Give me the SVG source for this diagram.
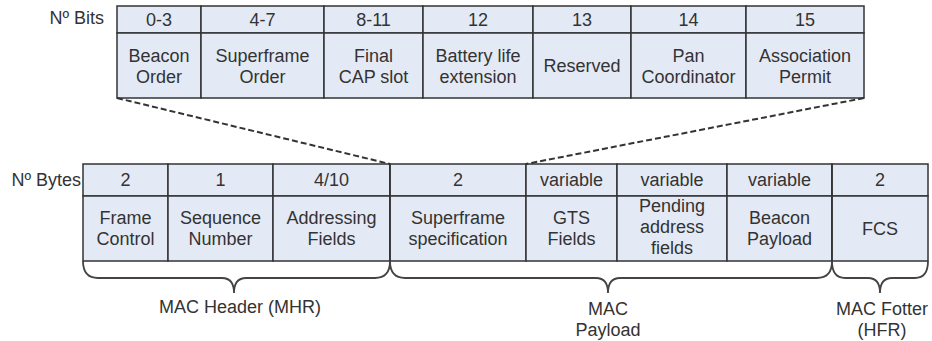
<svg xmlns="http://www.w3.org/2000/svg" width="932" height="341" viewBox="0 0 932 341">
<style>
  .cell { fill: #e4eaf5; stroke: #333; stroke-width: 1.5; }
  .sep { stroke: #333; stroke-width: 1.5; fill: none; }
  .t { font-family: "Liberation Sans", Arial, sans-serif; font-size: 18px; fill: #333; text-anchor: middle; }
  .lbl { font-family: "Liberation Sans", Arial, sans-serif; font-size: 18px; fill: #333; text-anchor: end; }
  .dash { stroke: #333; stroke-width: 2; stroke-dasharray: 6 3; fill: none; }
  .brace { stroke: #444; stroke-width: 1.8; fill: none; }
</style>
<rect width="932" height="341" fill="#ffffff"/>

<g id="bits-label"><text class="lbl" x="104" y="24">Nº Bits</text></g>
<g id="bytes-label"><text class="lbl" x="81" y="186">Nº Bytes</text></g>

<!-- Top table: superframe specification bits -->
<g id="bits-table">
  <g id="bit-beacon-order">
    <rect class="cell" x="117" y="6" width="84" height="27"/>
    <rect class="cell" x="117" y="33" width="84" height="65"/>
    <text class="t" x="159" y="26">0-3</text>
    <text class="t" x="159" y="62">Beacon</text>
    <text class="t" x="159" y="83">Order</text>
  </g>
  <g id="bit-superframe-order">
    <rect class="cell" x="201" y="6" width="123" height="27"/>
    <rect class="cell" x="201" y="33" width="123" height="65"/>
    <text class="t" x="262.5" y="26">4-7</text>
    <text class="t" x="262.5" y="62">Superframe</text>
    <text class="t" x="262.5" y="83">Order</text>
  </g>
  <g id="bit-final-cap">
    <rect class="cell" x="324" y="6" width="99" height="27"/>
    <rect class="cell" x="324" y="33" width="99" height="65"/>
    <text class="t" x="373.5" y="26">8-11</text>
    <text class="t" x="373.5" y="62">Final</text>
    <text class="t" x="373.5" y="83">CAP slot</text>
  </g>
  <g id="bit-battery">
    <rect class="cell" x="423" y="6" width="110" height="27"/>
    <rect class="cell" x="423" y="33" width="110" height="65"/>
    <text class="t" x="478" y="26">12</text>
    <text class="t" x="478" y="62">Battery life</text>
    <text class="t" x="478" y="83">extension</text>
  </g>
  <g id="bit-reserved">
    <rect class="cell" x="533" y="6" width="98" height="27"/>
    <rect class="cell" x="533" y="33" width="98" height="65"/>
    <text class="t" x="582" y="26">13</text>
    <text class="t" x="582" y="72">Reserved</text>
  </g>
  <g id="bit-pan-coordinator">
    <rect class="cell" x="631" y="6" width="115" height="27"/>
    <rect class="cell" x="631" y="33" width="115" height="65"/>
    <text class="t" x="688.5" y="26">14</text>
    <text class="t" x="688.5" y="62">Pan</text>
    <text class="t" x="688.5" y="83">Coordinator</text>
  </g>
  <g id="bit-association-permit">
    <rect class="cell" x="746" y="6" width="118" height="27"/>
    <rect class="cell" x="746" y="33" width="118" height="65"/>
    <text class="t" x="805" y="26">15</text>
    <text class="t" x="805" y="62">Association</text>
    <text class="t" x="805" y="83">Permit</text>
  </g>
</g>

<!-- Bottom table: MAC frame -->
<g id="frame-table">
  <g id="frame-control">
    <rect class="cell" x="83" y="164" width="85" height="32"/>
    <rect class="cell" x="83" y="196" width="85" height="65"/>
    <text class="t" x="125.5" y="186">2</text>
    <text class="t" x="125.5" y="223.5">Frame</text>
    <text class="t" x="125.5" y="244.5">Control</text>
  </g>
  <g id="sequence-number">
    <rect class="cell" x="168" y="164" width="105" height="32"/>
    <rect class="cell" x="168" y="196" width="105" height="65"/>
    <text class="t" x="220.5" y="186">1</text>
    <text class="t" x="220.5" y="223.5">Sequence</text>
    <text class="t" x="220.5" y="244.5">Number</text>
  </g>
  <g id="addressing-fields">
    <rect class="cell" x="273" y="164" width="117" height="32"/>
    <rect class="cell" x="273" y="196" width="117" height="65"/>
    <text class="t" x="331.5" y="186">4/10</text>
    <text class="t" x="331.5" y="223.5">Addressing</text>
    <text class="t" x="331.5" y="244.5">Fields</text>
  </g>
  <g id="superframe-specification">
    <rect class="cell" x="390" y="164" width="136" height="32"/>
    <rect class="cell" x="390" y="196" width="136" height="65"/>
    <text class="t" x="458" y="186">2</text>
    <text class="t" x="458" y="223.5">Superframe</text>
    <text class="t" x="458" y="244.5">specification</text>
  </g>
  <g id="gts-fields">
    <rect class="cell" x="526" y="164" width="91" height="32"/>
    <rect class="cell" x="526" y="196" width="91" height="65"/>
    <text class="t" x="571.5" y="186">variable</text>
    <text class="t" x="571.5" y="223.5">GTS</text>
    <text class="t" x="571.5" y="244.5">Fields</text>
  </g>
  <g id="pending-address-fields">
    <rect class="cell" x="617" y="164" width="110" height="32"/>
    <rect class="cell" x="617" y="196" width="110" height="65"/>
    <text class="t" x="672" y="186">variable</text>
    <text class="t" x="672" y="212">Pending</text>
    <text class="t" x="672" y="233">address</text>
    <text class="t" x="672" y="254">fields</text>
  </g>
  <g id="beacon-payload">
    <rect class="cell" x="727" y="164" width="105" height="32"/>
    <rect class="cell" x="727" y="196" width="105" height="65"/>
    <text class="t" x="779.5" y="186">variable</text>
    <text class="t" x="779.5" y="223.5">Beacon</text>
    <text class="t" x="779.5" y="244.5">Payload</text>
  </g>
  <g id="fcs">
    <rect class="cell" x="832" y="164" width="96" height="32"/>
    <rect class="cell" x="832" y="196" width="96" height="65"/>
    <text class="t" x="880" y="186">2</text>
    <text class="t" x="880" y="235">FCS</text>
  </g>
  <line class="sep" x1="390" y1="164" x2="390" y2="261" stroke-width="2"/>
  <line class="sep" x1="832" y1="164" x2="832" y2="261" stroke-width="2.2"/>
</g>

<!-- Connectors: zoom-out dashed lines -->
<g id="connectors">
  <line class="dash" x1="117" y1="98" x2="390" y2="164"/>
  <line class="dash" x1="864" y1="98" x2="526" y2="164"/>
</g>

<!-- Braces -->
<g id="braces">
  <path class="brace" d="M83,261 Q83,278 98,278 L222,278 Q234,278 234,293 Q234,278 246,278 L375,278 Q390,278 390,261"/>
  <path class="brace" d="M390,261 Q390,278 405,278 L596,278 Q608,278 608,293 Q608,278 620,278 L817,278 Q832,278 832,261"/>
  <path class="brace" d="M832,261 Q832,278 845,278 L868,278 Q880,278 880,293 Q880,278 892,278 L915,278 Q928,278 928,261"/>
</g>

<g id="mhr-label"><text class="t" x="240" y="313">MAC Header (MHR)</text></g>
<g id="payload-label">
  <text class="t" x="608" y="315">MAC</text>
  <text class="t" x="608" y="336">Payload</text>
</g>
<g id="mfr-label">
  <text class="t" x="882" y="315">MAC Fotter</text>
  <text class="t" x="882" y="336">(HFR)</text>
</g>
</svg>
